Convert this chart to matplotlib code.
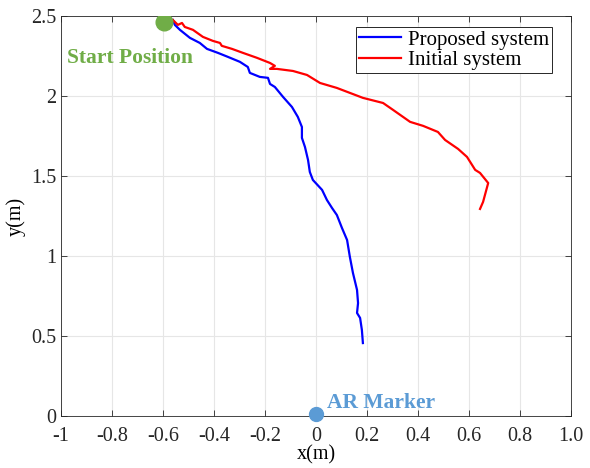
import numpy as np
import matplotlib
matplotlib.use("Agg")
import matplotlib.pyplot as plt

plt.rcParams['font.family'] = ['Liberation Serif', 'DejaVu Serif']
plt.rcParams['mathtext.fontset'] = 'stix'

# trajectory of the proposed system (x, y in metres)
proposed_x = [-0.561, -0.553, -0.533, -0.494, -0.455, -0.427, -0.384, -0.345, -0.298, -0.267,
              -0.259, -0.220, -0.188, -0.180, -0.161, -0.129, -0.094, -0.071, -0.055, -0.055,
              -0.043, -0.031, -0.024, -0.012, 0.024, 0.043, 0.063, 0.082, 0.102, 0.122,
              0.133, 0.145, 0.161, 0.165, 0.161, 0.173, 0.180, 0.184]
proposed_y = [2.475, 2.444, 2.413, 2.363, 2.331, 2.294, 2.269, 2.244, 2.213, 2.181,
              2.144, 2.119, 2.113, 2.075, 2.056, 1.994, 1.931, 1.869, 1.806, 1.738,
              1.681, 1.600, 1.525, 1.475, 1.413, 1.350, 1.300, 1.256, 1.175, 1.100,
              0.994, 0.894, 0.788, 0.706, 0.644, 0.613, 0.538, 0.456]

# trajectory of the initial system
initial_x = [-0.561, -0.541, -0.525, -0.514, -0.482, -0.443, -0.404, -0.376, -0.369, -0.329,
             -0.286, -0.231, -0.180, -0.161, -0.180, -0.153, -0.090, -0.035, 0.016, 0.082,
             0.184, 0.263, 0.302, 0.369, 0.420, 0.478, 0.506, 0.557, 0.592, 0.624,
             0.643, 0.675, 0.655, 0.643]
initial_y = [2.475, 2.444, 2.456, 2.431, 2.413, 2.369, 2.344, 2.331, 2.313, 2.294,
             2.269, 2.238, 2.206, 2.188, 2.169, 2.169, 2.156, 2.131, 2.081, 2.050,
             1.988, 1.956, 1.913, 1.838, 1.813, 1.775, 1.725, 1.669, 1.619, 1.538,
             1.519, 1.456, 1.338, 1.294]

start_pos = (-0.595, 2.46)
marker_pos = (0.0, 0.01)

x_ticks = [-1, -0.8, -0.6, -0.4, -0.2, 0, 0.2, 0.4, 0.6, 0.8, 1.0]
x_tick_labels = ['-1', '-0.8', '-0.6', '-0.4', '-0.2', '0', '0.2', '0.4', '0.6', '0.8', '1.0']
y_ticks = [0, 0.5, 1, 1.5, 2, 2.5]
y_tick_labels = ['0', '0.5', '1', '1.5', '2', '2.5']

green = '#70AD47'
light_blue = '#5B9BD5'

fig = plt.figure(figsize=(5.9, 4.68), dpi=100)
ax = fig.add_axes([0.103, 0.111, 0.865, 0.855])

ax.plot(proposed_x, proposed_y, color='#0000FF', lw=1.6, label='Proposed system', zorder=3)
ax.plot(initial_x, initial_y, color='#FF0000', lw=1.6, label='Initial system', zorder=3)

ax.plot(*start_pos, 'o', color=green, ms=12, zorder=4)
ax.plot(*marker_pos, 'o', color=light_blue, ms=10, zorder=4, clip_on=False)
ax.text(-0.975, 2.24, 'Start Position', color=green, fontsize=15.5, fontweight='bold',
        va='center', ha='left')
ax.text(0.045, 0.08, 'AR Marker', color=light_blue, fontsize=15.5, fontweight='bold',
        va='center', ha='left')

ax.set_xlim(-1, 1)
ax.set_ylim(0, 2.5)
ax.set_xticks(x_ticks)
ax.set_xticklabels(x_tick_labels)
ax.set_yticks(y_ticks)
ax.set_yticklabels(y_tick_labels)
ax.tick_params(direction='in', length=4, width=0.6, labelsize=14.5, colors='#262626',
               top=True, right=True)
ax.tick_params(axis='x', pad=8)
ax.tick_params(axis='y', pad=3)
ax.grid(True, color='#E6E6E6', lw=0.8)
ax.set_axisbelow(True)
for sp in ax.spines.values():
    sp.set_color('#262626')
    sp.set_linewidth(0.6)

ax.set_xlabel('x(m)', fontsize=14.5, labelpad=-1)
ax.set_ylabel('y(m)', fontsize=14.5, labelpad=4)

leg = ax.legend(loc='upper right', bbox_to_anchor=(0.963, 0.9725), fontsize=15,
                fancybox=False, framealpha=1, edgecolor='#262626', borderpad=0.15,
                handlelength=2.0, labelspacing=0.05, borderaxespad=0, handletextpad=0.35)
leg.get_frame().set_linewidth(0.7)

fig.savefig('out.png', dpi=100)
